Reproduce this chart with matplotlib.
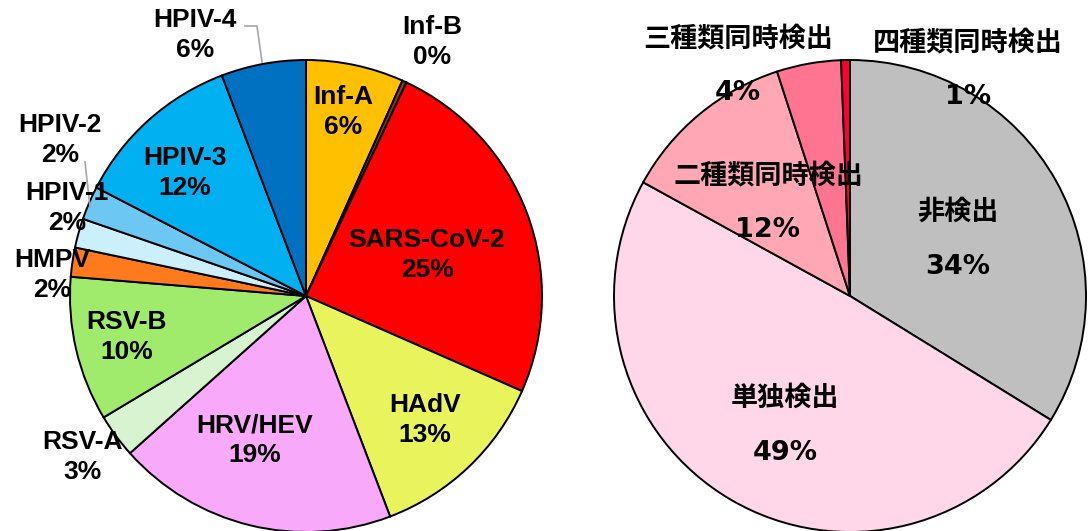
import matplotlib
matplotlib.use("Agg")
import matplotlib.pyplot as plt

plt.rcParams['font.family'] = ['Liberation Sans', 'Noto Sans CJK JP', 'DejaVu Sans']

# 左: 検出ウイルスの内訳 (時計回り, 上から)
virus_names = ['Inf-A', 'Inf-B', 'SARS-CoV-2', 'HAdV', 'HRV/HEV', 'RSV-A',
               'RSV-B', 'HMPV', 'HPIV-1', 'HPIV-2', 'HPIV-3', 'HPIV-4']
virus_share = [6.7, 0.3, 24.6, 12.6, 19.2, 3.0, 9.9, 2.0, 2.0, 2.3, 11.6, 5.8]
virus_pct = ['6%', '0%', '25%', '13%', '19%', '3%', '10%', '2%', '2%', '2%', '12%', '6%']
virus_colors = ['#FFC000', '#8B3A0E', '#FF0000', '#E9F35B', '#F9A9F9', '#D8F3D0',
                '#A0EB6C', '#FF7A1C', '#CBEFFB', '#6CC7F2', '#00B0F0', '#0070C0']

# 右: 検出数の内訳
detect_names = ['非検出', '単独検出', '二種類同時検出', '三種類同時検出', '四種類同時検出']
detect_share = [33.8, 49.2, 12.0, 4.4, 0.6]
detect_pct = ['34%', '49%', '12%', '4%', '1%']
detect_colors = ['#BFBFBF', '#FFD7E9', '#FFA7B5', '#FF7490', '#FF0030']

W, H = 1089, 531
fig = plt.figure(figsize=(W / 100, H / 100), dpi=100)
ax = fig.add_axes([0, 0, 1, 1])

wp = dict(edgecolor='black', linewidth=1.4)
ax.pie(virus_share, colors=virus_colors, startangle=90, counterclock=False,
       center=(306, H - 296), radius=236, wedgeprops=wp, frame=True)
ax.pie(detect_share, colors=detect_colors, startangle=90, counterclock=False,
       center=(850, H - 296), radius=236, wedgeprops=wp, frame=True)
ax.set_xlim(0, W)
ax.set_ylim(0, H)
ax.axis('off')

# ラベル位置 (ピクセル, 上から)
virus_pos = [(343, 112), (432, 42), (427, 255), (425, 420), (255, 440), (82, 457),
             (127, 337), (52, 275), (67, 208), (60, 140), (185, 173), (195, 35)]
for name, pct, (x, y) in zip(virus_names, virus_pct, virus_pos):
    ax.text(x, H - y, f'{name}\n{pct}', ha='center', va='center', fontsize=19,
            fontweight='bold', linespacing=1.28, family=['Liberation Sans'])

# 引き出し線
ax.plot([245, 257, 262], [H - 26, H - 26, H - 62], color='#A6A6A6', lw=1.2)
ax.plot([85, 90], [H - 162, H - 207], color='#A6A6A6', lw=1.2)

detect_pos = [(958, 212), (785, 398), (768, 175), (738, 38), (968, 42)]
for name, pct, (x, y) in zip(detect_names, detect_pct, detect_pos):
    ax.text(x, H - y, name, ha='center', va='center', fontsize=19.5,
            fontweight='bold', family=['Noto Sans CJK JP'])
    ax.text(x, H - y - 55, pct, ha='center', va='center', fontsize=19.5,
            fontweight='bold', family=['DejaVu Sans'])

fig.savefig('out.png', dpi=100)
